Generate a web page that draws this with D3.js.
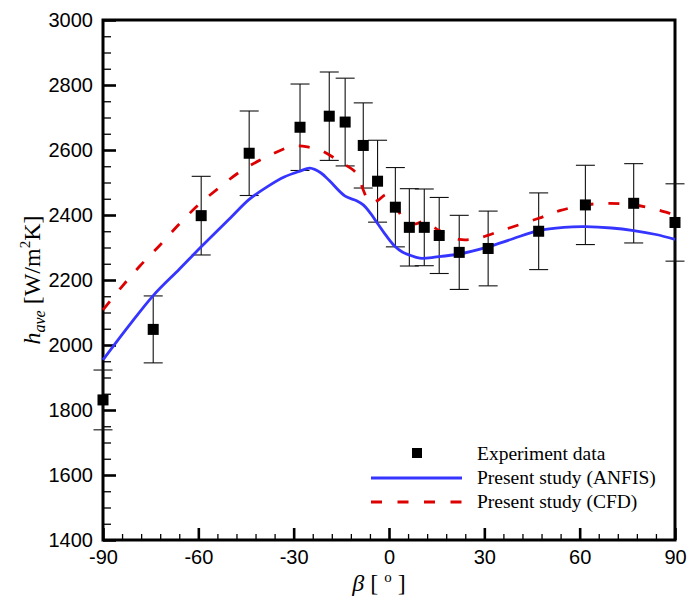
<!DOCTYPE html>
<html>
<head>
<meta charset="utf-8">
<script src="https://cdn.jsdelivr.net/npm/d3@7"></script>
<style>
  html, body { margin: 0; padding: 0; background: #fff; }
  svg { display: block; }
</style>
</head>
<body>
<svg id="chart" width="691" height="601"></svg>
<script>
// ---- Data ----
const expBeta = [-90, -74.2, -59.1, -44.0, -28.0, -18.8, -13.8, -8.1, -3.6, 2.0, 6.4, 11.1, 15.8, 22.1, 31.2, 47.1, 61.8, 77.0, 90];
const expH    = [1831, 2048, 2398, 2590, 2670, 2704, 2686, 2614, 2504, 2424, 2362, 2362, 2337, 2285, 2297, 2350, 2431, 2436, 2377];
const expErr  = [92, 103, 121, 130, 133, 136, 135, 131, 126, 122, 119, 118, 117, 114, 115, 118, 122, 122, 119];

const anfisBeta = [-90, -82, -74.2, -66, -59.1, -50, -44, -38, -33, -28, -24.9, -21.5, -18.8, -13.8, -10.2, -8.1, -5.8, -3.6, -1, 2.0, 4.2, 6.4, 9.7, 15, 22.1, 31.2, 39, 47.1, 55, 61.8, 70, 77, 84, 90];
const anfisH    = [1954, 2057, 2152, 2233, 2302, 2390, 2448, 2489, 2517, 2535, 2544, 2530, 2506, 2458, 2444, 2431, 2405, 2374, 2338, 2302, 2286, 2277, 2267, 2271, 2280, 2302, 2327, 2352, 2362, 2364, 2360, 2352, 2340, 2325];

const cfdBeta = [-90, -84.1, -78.4, -72.1, -66.3, -60, -53.7, -46.9, -38.5, -30.1, -24.9, -21.7, -15.4, -10.2, -8.1, -6, -3.5, -0.8, 1.5, 4, 6, 8.5, 11, 13, 15.8, 22.1, 27.6, 36, 47.1, 54, 61.8, 69.5, 77, 83, 87.4, 90];
const cfdH    = [2108, 2179, 2243, 2307, 2369, 2431, 2482, 2533, 2579, 2612, 2608, 2600, 2564, 2528, 2477, 2438, 2445, 2463, 2440, 2395, 2374, 2373, 2380, 2370, 2352, 2325, 2328, 2354, 2390, 2414, 2431, 2436, 2431, 2420, 2408, 2400];

const xTicks = [-90, -60, -30, 0, 30, 60, 90];
const yTicks = [1400, 1600, 1800, 2000, 2200, 2400, 2600, 2800, 3000];
const legendLabels = ["Experiment data", "Present study (ANFIS)", "Present study (CFD)"];

// ---- Layout ----
const M = {left: 103, right: 675, top: 20, bottom: 540};
const svg = d3.select("#chart");

const x = d3.scaleLinear().domain([-90, 90]).range([M.left, M.right]);
const y = d3.scaleLinear().domain([1400, 3000]).range([M.bottom, M.top]);

const blue = "#3535ff", red = "#dd0000";
const sansFont = "'Liberation Sans', Arial, sans-serif";
const serifFont = "'Liberation Serif', 'Times New Roman', serif";
const plainFmt = d => String(d);

// minor ticks
const xMinor = d3.range(-90, 90.001, 6).filter(v => !xTicks.includes(Math.round(v)));
const yMinor = d3.range(1400, 3000.001, 50).filter(v => !yTicks.includes(Math.round(v)));

const gx = svg.append("g").attr("transform", `translate(0,${M.bottom})`);
gx.call(d3.axisBottom(x).tickValues(xMinor).tickSize(-6).tickSizeOuter(0).tickFormat(""));
gx.selectAll(".tick line").attr("stroke-width", 1.3);
const gx2 = svg.append("g").attr("transform", `translate(0,${M.bottom})`);
gx2.call(d3.axisBottom(x).tickValues(xTicks).tickSize(-12).tickSizeOuter(0).tickPadding(10).tickFormat(plainFmt));
gx2.selectAll(".tick line").attr("stroke-width", 2.6);
gx2.selectAll("text").attr("font-family", sansFont).attr("font-size", 20).attr("fill", "#000");

const gy = svg.append("g").attr("transform", `translate(${M.left},0)`);
gy.call(d3.axisLeft(y).tickValues(yMinor).tickSize(-8).tickSizeOuter(0).tickFormat(""));
gy.selectAll(".tick line").attr("stroke-width", 1.3);
const gy2 = svg.append("g").attr("transform", `translate(${M.left},0)`);
gy2.call(d3.axisLeft(y).tickValues(yTicks).tickSize(-13).tickSizeOuter(0).tickPadding(10).tickFormat(plainFmt));
gy2.selectAll(".tick line").attr("stroke-width", 2.6);
gy2.selectAll("text").attr("font-family", sansFont).attr("font-size", 20).attr("fill", "#000");

svg.selectAll(".domain").remove();

// frame
svg.append("rect")
  .attr("x", M.left).attr("y", M.top)
  .attr("width", M.right - M.left).attr("height", M.bottom - M.top)
  .attr("fill", "none").attr("stroke", "#000").attr("stroke-width", 3);

// ---- Error bars ----
const exp = expBeta.map((b, i) => ({b, h: expH[i], e: expErr[i]}));
const eb = svg.append("g").attr("stroke", "#111").attr("stroke-width", 1.1);
exp.forEach(d => {
  const cx = x(d.b);
  eb.append("line").attr("x1", cx).attr("x2", cx).attr("y1", y(d.h - d.e)).attr("y2", y(d.h + d.e));
  eb.append("line").attr("x1", cx - 9.5).attr("x2", cx + 9.5).attr("y1", y(d.h + d.e)).attr("y2", y(d.h + d.e));
  eb.append("line").attr("x1", cx - 9.5).attr("x2", cx + 9.5).attr("y1", y(d.h - d.e)).attr("y2", y(d.h - d.e));
});

// ---- Curves ----
const line = d3.line().x(d => x(d[0])).y(d => y(d[1])).curve(d3.curveCatmullRom.alpha(0.5));
svg.append("path")
  .datum(anfisBeta.map((b, i) => [b, anfisH[i]]))
  .attr("d", line).attr("fill", "none").attr("stroke", blue).attr("stroke-width", 2.8);
svg.append("path")
  .datum(cfdBeta.map((b, i) => [b, cfdH[i]]))
  .attr("d", line).attr("fill", "none").attr("stroke", red).attr("stroke-width", 2.8)
  .attr("stroke-dasharray", "11,15");

// ---- Markers ----
const ms = 11;
svg.append("g").selectAll("rect").data(exp).join("rect")
  .attr("x", d => x(d.b) - ms / 2).attr("y", d => y(d.h) - ms / 2)
  .attr("width", ms).attr("height", ms).attr("fill", "#000");

// ---- Legend ----
const lg = svg.append("g");
lg.append("rect").attr("x", 417 - 5).attr("y", 453 - 5).attr("width", 10).attr("height", 10).attr("fill", "#000");
lg.append("line").attr("x1", 371).attr("x2", 462).attr("y1", 478).attr("y2", 478)
  .attr("stroke", blue).attr("stroke-width", 2.8);
lg.append("line").attr("x1", 371).attr("x2", 462).attr("y1", 502).attr("y2", 502)
  .attr("stroke", red).attr("stroke-width", 2.8).attr("stroke-dasharray", "11,15.5");
legendLabels.forEach((t, i) =>
  lg.append("text").attr("x", 477).attr("y", 460 + i * 24)
    .attr("font-family", serifFont).attr("font-size", 19.5).attr("fill", "#000").text(t));

// ---- Axis titles ----
const xt = svg.append("text").attr("x", 379).attr("y", 591).attr("text-anchor", "middle")
  .attr("font-family", serifFont).attr("font-size", 24).attr("fill", "#000");
xt.append("tspan").attr("font-style", "italic").text("β");
xt.append("tspan").text(" [ ");
xt.append("tspan").attr("font-size", 15).attr("dy", -9).text("o");
xt.append("tspan").attr("dy", 9).text(" ]");

const yt = svg.append("text").attr("transform", `translate(40,280) rotate(-90)`).attr("text-anchor", "middle")
  .attr("font-family", serifFont).attr("font-size", 24).attr("fill", "#000");
yt.append("tspan").attr("font-style", "italic").text("h");
yt.append("tspan").attr("font-style", "italic").attr("font-size", 16).attr("dy", 5).text("ave");
yt.append("tspan").attr("dy", -5).text(" [W/m");
yt.append("tspan").attr("font-size", 15).attr("dy", -10).text("2");
yt.append("tspan").attr("dy", 10).text("K]");
</script>
</body>
</html>
